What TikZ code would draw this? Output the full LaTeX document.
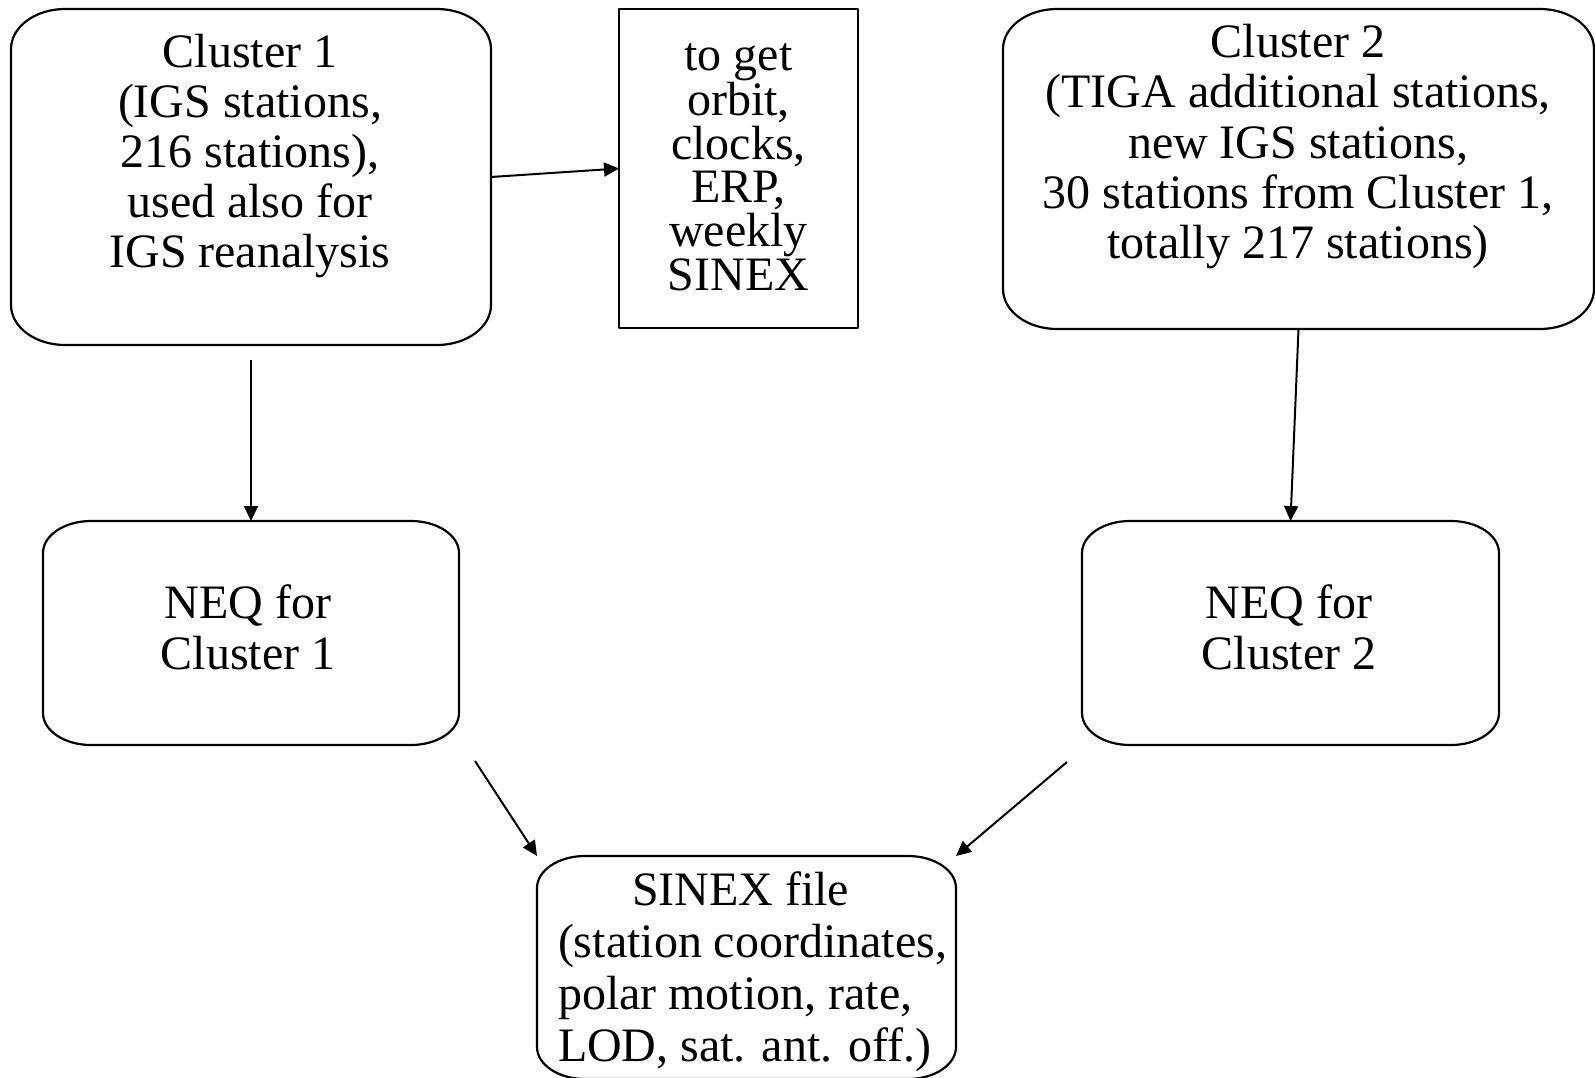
\documentclass[tikz,border=0pt]{standalone}
\usepackage{fontspec}
\setmainfont{Liberation Serif}
\usetikzlibrary{arrows.meta}

% Rounded frame with elliptical corners around a named node:
% #1 node name, #2 horizontal corner radius, #3 vertical corner radius
\newcommand\softframe[3]{%
  \draw[frame]
    ([xshift=#2]#1.north west) -- ([xshift=-#2]#1.north east)
    .. controls ([xshift=-0.448*#2]#1.north east) and ([yshift=-0.448*#3]#1.north east) .. ([yshift=-#3]#1.north east)
    -- ([yshift=#3]#1.south east)
    .. controls ([yshift=0.448*#3]#1.south east) and ([xshift=-0.448*#2]#1.south east) .. ([xshift=-#2]#1.south east)
    -- ([xshift=#2]#1.south west)
    .. controls ([xshift=0.448*#2]#1.south west) and ([yshift=0.448*#3]#1.south west) .. ([yshift=#3]#1.south west)
    -- ([yshift=-#3]#1.north west)
    .. controls ([yshift=-0.448*#3]#1.north west) and ([xshift=0.448*#2]#1.north west) .. ([xshift=#2]#1.north west)
    -- cycle;}

\begin{document}
\begin{tikzpicture}[x=1pt,y=-1pt,
  frame/.style={line width=2.2pt,line join=round},
  holder/.style={draw=none,inner sep=0pt,outer sep=0pt},
  boxtext/.style={inner sep=0pt,outer sep=0pt,align=center,font=\fontsize{48}{50}\selectfont},
  link/.style={line width=2pt,-{Triangle[length=15pt,width=14pt]}}]

\useasboundingbox (0,0) rectangle (1595,1078);

% boxes
\node[holder,minimum width=480pt,minimum height=336pt] (c1) at (251,177) {};
\node[holder,draw,frame,minimum width=239pt,minimum height=319pt] (mid) at (738.5,168.5) {};
\node[holder,minimum width=591pt,minimum height=320pt] (c2) at (1298.5,169) {};
\node[holder,minimum width=416pt,minimum height=224pt] (neq1) at (251,633) {};
\node[holder,minimum width=417pt,minimum height=224pt] (neq2) at (1290.5,633) {};
\node[holder,minimum width=419pt,minimum height=223pt] (sinex) at (746.5,967.5) {};

\softframe{c1}{54pt}{40pt}
\softframe{c2}{54pt}{40pt}
\softframe{neq1}{48pt}{32pt}
\softframe{neq2}{48pt}{32pt}
\softframe{sinex}{48pt}{32pt}

% texts (anchored at the baseline of their last line)
\node[boxtext,anchor=base] (c1text) at (250,267)
  {Cluster 1\\(IGS stations,\\216 stations),\\used also for\\IGS reanalysis};
\node[boxtext,anchor=base,font=\fontsize{48}{43.6}\selectfont] (midtext) at (738.5,290)
  {to get\\orbit,\\clocks,\\ERP,\\weekly\\SINEX};
\node[boxtext,anchor=base] (c2text) at (1298,258)
  {Cluster 2\\(TIGA additional stations,\\new IGS stations,\\30 stations from Cluster 1,\\totally 217 stations)};
\node[boxtext,anchor=base,font=\fontsize{48}{51}\selectfont] (neq1text) at (248,669)
  {NEQ for\\Cluster 1};
\node[boxtext,anchor=base,font=\fontsize{48}{51}\selectfont] (neq2text) at (1289,669)
  {NEQ for\\Cluster 2};
\node[boxtext,anchor=base west,align=left,font=\fontsize{48}{52}\selectfont] (sinextext) at (558,1061)
  {\hspace*{74pt}SINEX file\\(station coordinates,\\polar motion, rate,\\LOD, sat. ant. off.)};

% connectors
\coordinate (c1out) at ([yshift=-15pt]c1.south);
\coordinate (n1out) at (475,761);
\coordinate (n2out) at (1067,762);
\draw[link] (c1.east) -- (mid.west);
\draw[link] (c1out) -- (neq1.north);
\draw[link] (c2.south) -- (neq2.north);
\draw[link] (n1out) -- (sinex.north west);
\draw[link] (n2out) -- (sinex.north east);
\end{tikzpicture}
\end{document}
